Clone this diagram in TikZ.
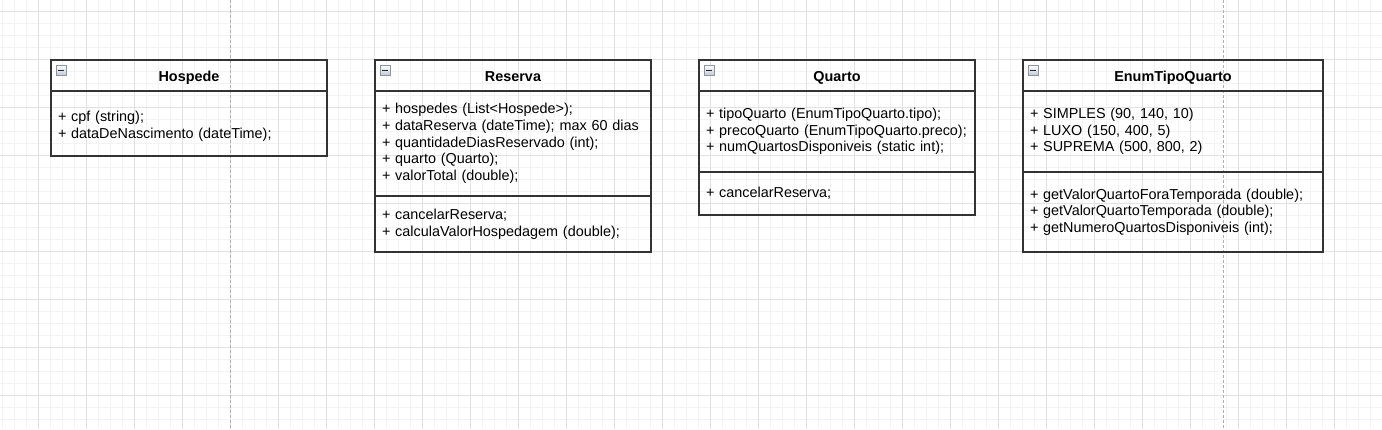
\documentclass[tikz,border=0pt]{standalone}
\usepackage{fontspec}
\setmainfont{Liberation Sans}
\usetikzlibrary{positioning}

\definecolor{gridminor}{HTML}{F3F3F3}
\definecolor{gridmajor}{HTML}{E2E2E2}
\definecolor{pagebreak}{HTML}{B0B0B0}
\definecolor{boxline}{HTML}{333333}
\definecolor{iconfill}{HTML}{BFC9D6}
\definecolor{iconedge}{HTML}{8C96A3}

\begin{document}
\begin{tikzpicture}[x=1pt,y=-1pt,node distance=48pt,
    every node/.style={font=\fontsize{14.4}{16.7}\selectfont},
    head/.style={draw=boxline,line width=1.3pt,outer sep=0pt,minimum width=#1,minimum height=31pt,text height=12pt,text depth=1pt,font=\fontsize{14.4}{16.7}\selectfont\bfseries},
    part/.style={draw=boxline,line width=1.3pt,outer sep=0pt,align=left,inner xsep=7pt,inner ysep=0pt,text width=#1},
    icon/.style={draw=iconedge,line width=0.6pt,top color=white,bottom color=iconfill,minimum size=10pt,inner sep=0pt,anchor=north west,
        path picture={\draw[line width=1.6pt,black!85] ([xshift=2pt]path picture bounding box.west) -- ([xshift=-2pt]path picture bounding box.east);}}]

\useasboundingbox (0,0) rectangle (1382,429);
\fill[white] (0,0) rectangle (1382,429);

\foreach \x in {2.7,14.7,...,1382} \draw[gridminor,line width=1pt] (\x,0) -- (\x,429);
\foreach \y in {11.3,23.3,...,429} \draw[gridminor,line width=1pt] (0,\y) -- (1382,\y);
\foreach \x in {38.7,86.7,...,1382} \draw[gridmajor,line width=1pt] (\x,0) -- (\x,429);
\foreach \y in {11.3,59.3,...,429} \draw[gridmajor,line width=1pt] (0,\y) -- (1382,\y);
\foreach \x in {230.3,1223.3} \draw[pagebreak,line width=1pt,dash pattern=on 3pt off 2pt] (\x,0) -- (\x,429);

\node[head=276pt,anchor=north west] (hosp) at (51,60) {Hospede};
\node[part=262pt,minimum height=65pt,below=0pt of hosp] (hospattr)
    {\rule{0pt}{16.5pt}+ cpf (string);\\+ dataDeNascimento (dateTime);};

\node[head=276pt,right=of hosp] (res) {Reserva};
\node[part=262pt,minimum height=105pt,below=0pt of res] (resattr)
    {+ hospedes (List<Hospede>);\\+ dataReserva (dateTime); max 60 dias\\+ quantidadeDiasReservado (int);\\+ quarto (Quarto);\\+ valorTotal (double);};
\node[part=262pt,minimum height=56pt,below=0pt of resattr] (resops)
    {+ cancelarReserva;\\+ calculaValorHospedagem (double);};

\node[head=276pt,right=of res] (quarto) {Quarto};
\node[part=262pt,minimum height=81pt,below=0pt of quarto] (quartoattr)
    {+ tipoQuarto (EnumTipoQuarto.tipo);\\+ precoQuarto (EnumTipoQuarto.preco);\\+ numQuartosDisponiveis (static int);};
\node[part=262pt,minimum height=43pt,below=0pt of quartoattr] (quartoops)
    {+ cancelarReserva;};

\node[head=300pt,right=of quarto] (enum) {EnumTipoQuarto};
\node[part=286pt,minimum height=81pt,below=0pt of enum] (enumattr)
    {+ SIMPLES (90, 140, 10)\\+ LUXO (150, 400, 5)\\+ SUPREMA (500, 800, 2)};
\node[part=286pt,minimum height=80pt,below=0pt of enumattr] (enumops)
    {+ getValorQuartoForaTemporada (double);\\+ getValorQuartoTemporada (double);\\+ getNumeroQuartosDisponiveis (int);};

\foreach \c in {hosp,res,quarto,enum}
    \node[icon] (\c icon) at ([xshift=5pt,yshift=-5pt]\c.north west) {};
\end{tikzpicture}
\end{document}
